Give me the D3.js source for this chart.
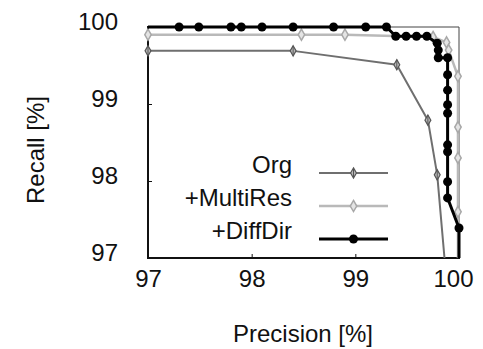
<!DOCTYPE html>
<meta charset="utf-8">
<style>
    body { margin: 0; background: #fff; }
    svg text { font-family: 'Liberation Sans', Arial, sans-serif; fill: #111; }
    .tick line { stroke: #111; }
    .domain { display: none; }
</style>
<svg width="483" height="349"></svg>
<script src="https://cdn.jsdelivr.net/npm/d3@7"></script>
<script>
    // values
    var orgP   = [97.00, 98.40, 99.40, 99.70, 99.79, 99.86];
    var orgR   = [99.69, 99.69, 99.51, 98.79, 98.08, 97.00];

    var multiP = [97.00, 98.48, 98.90, 99.75, 99.88, 99.90, 99.99, 99.99, 99.99, 99.99, 99.99];
    var multiR = [99.90, 99.90, 99.90, 99.87, 99.80, 99.70, 99.36, 98.70, 98.30, 97.60, 97.00];

    var diffP  = [97.00, 97.30, 97.49, 97.80, 97.90, 98.10, 98.40, 98.79, 99.10, 99.30,
                  99.39, 99.49, 99.59, 99.69, 99.79, 99.80, 99.80, 99.89, 99.89, 99.89,
                  99.89, 99.89, 99.89, 99.89, 99.89, 99.89, 100.0, 100.0];
    var diffR  = [100, 100, 100, 100, 100, 100, 100, 100, 100, 100,
                  99.88, 99.88, 99.88, 99.88, 99.79, 99.70, 99.60, 99.60, 99.38, 99.18,
                  98.99, 98.88, 98.47, 98.38, 97.99, 97.78, 97.39, 97.00];

    var xTicks = [97, 98, 99, 100];
    var yTicks = [97, 98, 99, 100];
    var seriesNames = ["Org", "+MultiRes", "+DiffDir"];

    var svg = d3.select("svg");
    var pl = 148, pr = 459, pt = 27, pb = 258;

    var x = d3.scaleLinear().domain([97, 100]).range([pl, pr]);
    var y = d3.scaleLinear().domain([97, 100]).range([pb, pt]);

    // frame: thin top/right, heavy left/bottom
    svg.append("path")
        .attr("d", "M" + pl + "," + pt + "H" + pr + "V" + pb)
        .attr("fill", "none")
        .attr("stroke", "#444")
        .attr("stroke-width", 1);

    var xAxis = svg.append("g")
        .attr("transform", "translate(0," + pb + ")")
        .call(d3.axisBottom(x).tickValues(xTicks).tickSize(-4).tickPadding(12).tickFormat(d3.format("d")));
    xAxis.selectAll("text").attr("font-size", 24)
        .attr("dx", function (d) { return d === 100 ? -6 : 0; });

    var yAxis = svg.append("g")
        .attr("transform", "translate(" + pl + ",0)")
        .call(d3.axisLeft(y).tickValues(yTicks).tickSize(-4).tickPadding(30).tickFormat(d3.format("d")));
    yAxis.selectAll("text").attr("font-size", 24).attr("dy", "0.1em");

    svg.append("line")
        .attr("x1", pl).attr("x2", pl).attr("y1", pt - 1).attr("y2", pb + 1)
        .attr("stroke", "#111").attr("stroke-width", 2);
    svg.append("line")
        .attr("x1", pl - 1).attr("x2", pr + 1).attr("y1", pb).attr("y2", pb)
        .attr("stroke", "#111").attr("stroke-width", 2);

    svg.append("text")
        .attr("transform", "translate(44,150) rotate(-90)")
        .attr("text-anchor", "middle")
        .attr("font-size", 24)
        .text("Recall [%]");
    svg.append("text")
        .attr("x", 303).attr("y", 342)
        .attr("text-anchor", "middle")
        .attr("font-size", 24)
        .text("Precision [%]");

    var line = d3.line().x(function (d) { return x(d[0]); }).y(function (d) { return y(d[1]); });

    var series = [
        { name: seriesNames[0], pts: d3.zip(orgP, orgR), color: "#6f6f6f", width: 2, sym: "cross" },
        { name: seriesNames[1], pts: d3.zip(multiP, multiR), color: "#b9b9b9", width: 2.5, sym: "diamond" },
        { name: seriesNames[2], pts: d3.zip(diffP, diffR), color: "#000", width: 3, sym: "circle" }
    ];

    function drawMarker(g, s, cx, cy) {
        if (s.sym === "circle") {
            g.append("circle").attr("cx", cx).attr("cy", cy).attr("r", 4.5).attr("fill", "#000");
        } else if (s.sym === "diamond") {
            g.append("path").attr("d", d3.symbol(d3.symbolDiamond, 36)())
                .attr("transform", "translate(" + cx + "," + cy + ")")
                .attr("fill", "#e4e4e4").attr("stroke", "#a8a8a8").attr("stroke-width", 1.5);
        } else {
            g.append("path").attr("d", d3.symbol(d3.symbolDiamond, 30)())
                .attr("transform", "translate(" + cx + "," + cy + ")")
                .attr("fill", "#bbb").attr("stroke", "#555").attr("stroke-width", 1.2);
            g.append("path").attr("d", "M" + cx + "," + (cy - 5) + "V" + (cy + 5))
                .attr("stroke", "#555").attr("stroke-width", 1);
        }
    }

    series.forEach(function (s) {
        var g = svg.append("g");
        g.append("path")
            .datum(s.pts)
            .attr("d", line)
            .attr("fill", "none")
            .attr("stroke", s.color)
            .attr("stroke-width", s.width)
            .attr("stroke-linejoin", "round");
        s.pts.forEach(function (p, i) {
            // the curves run off the plot at its bottom edge; no marker there
            if (p[1] === 97) return;
            if (s.sym === "circle" && i === 0) return;
            drawMarker(g, s, x(p[0]), y(p[1]));
        });
    });

    // legend
    var legY = [173, 206, 239];
    series.forEach(function (s, i) {
        var g = svg.append("g");
        g.append("text")
            .attr("x", 292).attr("y", legY[i])
            .attr("text-anchor", "end")
            .attr("font-size", 24)
            .text(s.name);
        g.append("line")
            .attr("x1", 319).attr("x2", 388).attr("y1", legY[i]).attr("y2", legY[i])
            .attr("stroke", s.color).attr("stroke-width", s.width);
        drawMarker(g, s, 353.5, legY[i]);
    });
</script>
